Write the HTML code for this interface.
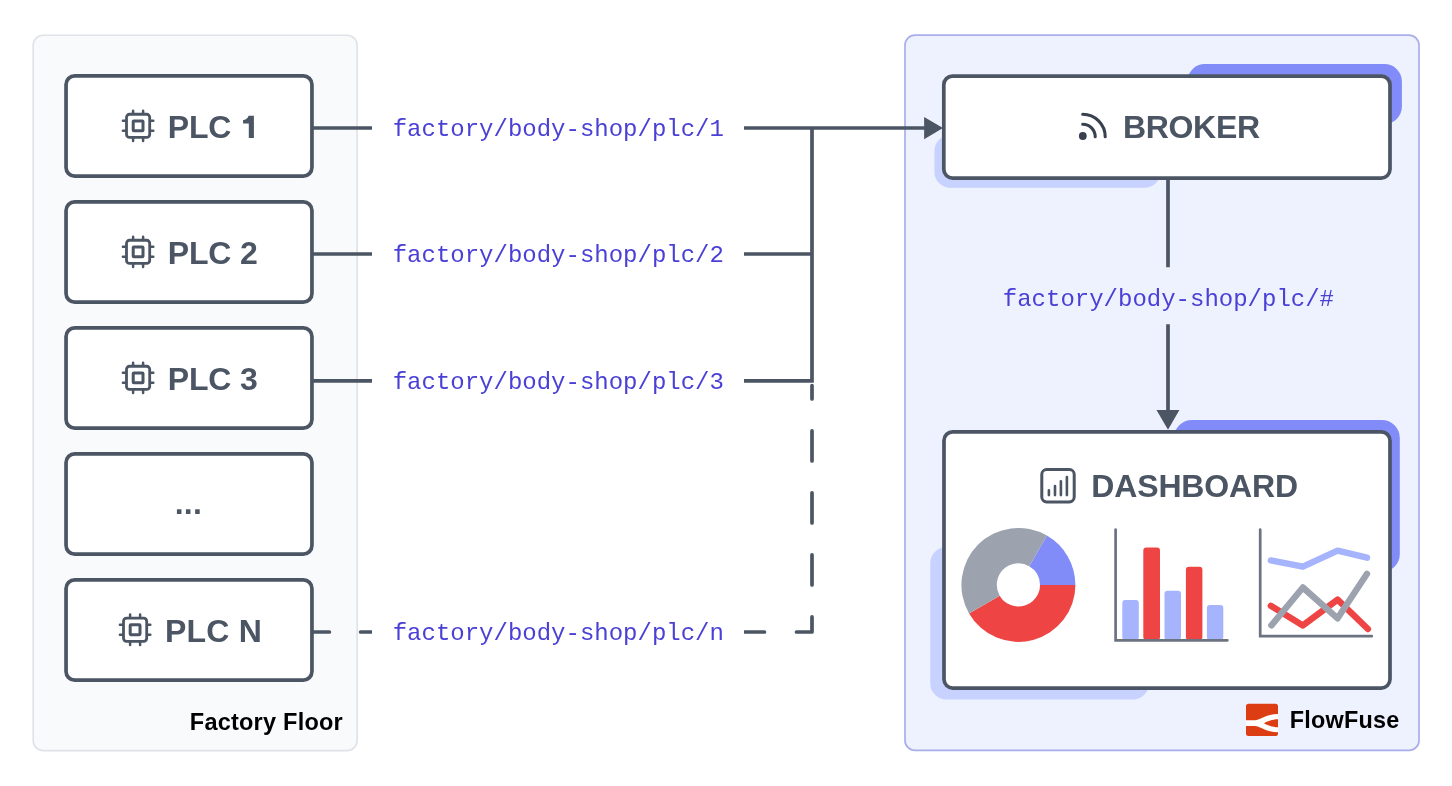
<!DOCTYPE html>
<html><head><meta charset="utf-8">
<style>
html,body{margin:0;padding:0;background:#fff;width:1452px;height:786px;overflow:hidden}
svg{display:block;will-change:transform}
.b{font-family:"Liberation Sans",sans-serif;font-weight:bold}
.m{font-family:"Liberation Mono",monospace}
</style></head><body>
<svg width="1452" height="786" viewBox="0 0 1452 786">
<defs>
<g id="chip" fill="none" stroke="#4b5563">
<rect x="-11.6" y="-11.6" width="23.2" height="23.2" rx="3" stroke-width="2.8"/>
<rect x="-4.9" y="-4.9" width="9.8" height="9.8" rx="0.6" stroke-width="3"/>
<path d="M-5 -15.2V-12.5M5 -15.2V-12.5M-5 15.2V12.5M5 15.2V12.5M-15.2 -5H-12.5M-15.2 5H-12.5M15.2 -5H12.5M15.2 5H12.5" stroke-width="2.5" stroke-linecap="round"/>
</g>
</defs>
<!-- panels -->
<rect x="33.2" y="35.2" width="323.9" height="715.4" rx="10" fill="#f9fafb" stroke="#e0e2e7" stroke-width="1.6"/>
<rect x="905" y="35.1" width="514" height="715.3" rx="10" fill="#eef2ff" stroke="#a9aeea" stroke-width="1.7"/>

<!-- connectors -->
<g stroke="#4b5563" stroke-width="3.7" fill="none">
<path d="M300 128H372M744 128H926"/>
<path d="M300 254H372M744 254H812"/>
<path d="M300 380.9H372M744 380.9H812V128"/>
<path d="M1168 178V267.3M1168 324.3V411"/>
</g>
<g stroke="#4b5563" stroke-width="3.7" fill="none" stroke-linecap="round" stroke-linejoin="round">
<path d="M300 632H329.4M360.6 632H390.6M734.5 632H764.5M796.5 632H812V616.9M812 584.9V554.9M812 522.9V492.9M812 460.9V430.9M812 398.9V385.6"/>
</g>
<rect x="372" y="612" width="372" height="40" fill="#fff"/>
<polygon points="924.1,116.9 943,128 924.1,139.3" fill="#4b5563"/>
<polygon points="1156.5,410.1 1179.4,410.1 1168,429.8" fill="#4b5563"/>

<!-- PLC boxes -->
<g fill="#fff" stroke="#4b5563" stroke-width="3.7">
<rect x="66.05" y="75.85" width="245.9" height="100.3" rx="8.7"/>
<rect x="66.05" y="201.85" width="245.9" height="100.3" rx="8.7"/>
<rect x="66.05" y="327.85" width="245.9" height="100.3" rx="8.7"/>
<rect x="66.05" y="453.85" width="245.9" height="100.3" rx="8.7"/>
<rect x="66.05" y="579.85" width="245.9" height="100.3" rx="8.7"/>
</g>
<use href="#chip" x="138.1" y="125.85"/>
<use href="#chip" x="138.1" y="251.85"/>
<use href="#chip" x="138.1" y="377.85"/>
<use href="#chip" x="135.1" y="629.75"/>
<g class="b" font-size="32" fill="#4b5563" letter-spacing="-0.2">
<text x="167.8" y="138">PLC</text>
<path d="M243.1 120C245.6 119.8 247.9 118.2 248.6 115.7H253.9V138H248.8V123.6H243.1Z" stroke="none"/>
<text x="167.8" y="264">PLC 2</text>
<text x="167.8" y="390">PLC 3</text>
<text x="188.4" y="514" text-anchor="middle" letter-spacing="0.25">...</text>
<text x="164.9" y="642" letter-spacing="0.25">PLC N</text>
</g>

<!-- topic labels -->
<g class="m" font-size="24.8" fill="#4a40d6" text-anchor="middle">
<text x="558.3" y="135.9" textLength="331.2" lengthAdjust="spacingAndGlyphs">factory/body-shop/plc/1</text>
<text x="558.3" y="261.9" textLength="331.2" lengthAdjust="spacingAndGlyphs">factory/body-shop/plc/2</text>
<text x="558.3" y="388.8" textLength="331.2" lengthAdjust="spacingAndGlyphs">factory/body-shop/plc/3</text>
<text x="558.3" y="639.9" textLength="331.2" lengthAdjust="spacingAndGlyphs">factory/body-shop/plc/n</text>
<text x="1168.4" y="305.7" textLength="331.2" lengthAdjust="spacingAndGlyphs">factory/body-shop/plc/#</text>
</g>

<!-- broker -->
<rect x="1187.4" y="64" width="214.5" height="60.1" rx="17.5" fill="#818cf8"/>
<rect x="934.4" y="135" width="226.3" height="52.8" rx="16" fill="#c7d2fe"/>
<rect x="943.8" y="76.05" width="446.2" height="102" rx="8.7" fill="#fff" stroke="#4b5563" stroke-width="3.7"/>
<g fill="none" stroke="#394150" stroke-width="3.1" stroke-linecap="round">
<path d="M1082.7 114.2A22.5 22.5 0 0 1 1105.2 136.7"/>
<path d="M1082.7 124.2A12.5 12.5 0 0 1 1095.2 136.7"/>
</g>
<circle cx="1082.8" cy="136" r="3.9" fill="#394150"/>
<text class="b" x="1122.9" y="137.7" font-size="32" fill="#4b5563" letter-spacing="-0.3">BROKER</text>

<!-- dashboard -->
<rect x="1174" y="420" width="225.8" height="152" rx="18" fill="#818cf8"/>
<rect x="930.3" y="547" width="218.7" height="152.5" rx="16" fill="#c7d2fe"/>
<rect x="944" y="431.85" width="446" height="256.2" rx="8.7" fill="#fff" stroke="#4b5563" stroke-width="3.7"/>
<rect x="1041.8" y="469.6" width="32.4" height="32.3" rx="4.8" fill="none" stroke="#4b5563" stroke-width="3"/>
<path d="M1048.9 490.3V495.1M1055 486.1V495.1M1060.9 481.3V495.1M1066.9 477.1V495.1" stroke="#4b5563" stroke-width="2.6" stroke-linecap="round"/>
<text class="b" x="1091.3" y="497.2" font-size="32" fill="#4b5563" letter-spacing="-0.15">DASHBOARD</text>

<!-- donut -->
<g transform="translate(1018.4 584.9)">
<path d="M28.5 -49.36A57 57 0 0 1 57 0L21.6 0A21.6 21.6 0 0 0 10.8 -18.71Z" fill="#818cf8"/>
<path d="M57 0A57 57 0 0 1 -49.36 28.5L-18.71 10.8A21.6 21.6 0 0 0 21.6 0Z" fill="#ef4444"/>
<path d="M-49.36 28.5A57 57 0 0 1 28.5 -49.36L10.8 -18.71A21.6 21.6 0 0 0 -18.71 10.8Z" fill="#9ca3af"/>
</g>

<!-- bar chart -->
<g fill="#a5b4fc">
<rect x="1122.3" y="600.1" width="16.5" height="40" rx="3"/>
<rect x="1164.5" y="590.7" width="16.5" height="49.4" rx="3"/>
<rect x="1206.9" y="605" width="16.4" height="35.1" rx="3"/>
</g>
<g fill="#ef4444">
<rect x="1143.3" y="547.6" width="16.7" height="92.5" rx="3"/>
<rect x="1185.9" y="566.7" width="16.5" height="73.4" rx="3"/>
</g>
<path d="M1115.6 529.7V640.3H1227.4" fill="none" stroke="#6b7280" stroke-width="2.7" stroke-linecap="round"/>

<!-- line chart -->
<g fill="none" stroke-width="6.4" stroke-linecap="round" stroke-linejoin="round">
<polyline points="1270.8,560.4 1302.9,566.7 1337.6,550.6 1367,557.7" stroke="#a5b4fc"/>
<polyline points="1270.8,605.8 1302.9,625.4 1337.6,599.6 1367.9,629" stroke="#ef4444"/>
<polyline points="1271.4,625.4 1302.9,587.5 1337.6,618.3 1367,573.8" stroke="#9ca3af"/>
</g>
<path d="M1260.2 529.7V636.2H1371.8" fill="none" stroke="#6b7280" stroke-width="2.7" stroke-linecap="round"/>

<!-- FlowFuse -->
<g transform="translate(1246 703.8)">
<rect x="0" y="0" width="32" height="32.1" rx="2.5" fill="#dc3d12"/>
<path d="M0 16.5L9 16.5C14 16.5 20 10.2 32 10.2L32 15.5C26 15.6 21 17.5 18 19.45C21 21.4 26 23.3 32 23.4L32 28.5C20 28.5 14 22.3 9 22.3L0 22.3Z" fill="#fff"/>
</g>
<text class="b" x="1289.7" y="727.9" font-size="23.4" fill="#000" letter-spacing="0.25">FlowFuse</text>
<text class="b" x="189.8" y="730.1" font-size="23.5" fill="#000" letter-spacing="0.23">Factory Floor</text>
</svg>
</body></html>
